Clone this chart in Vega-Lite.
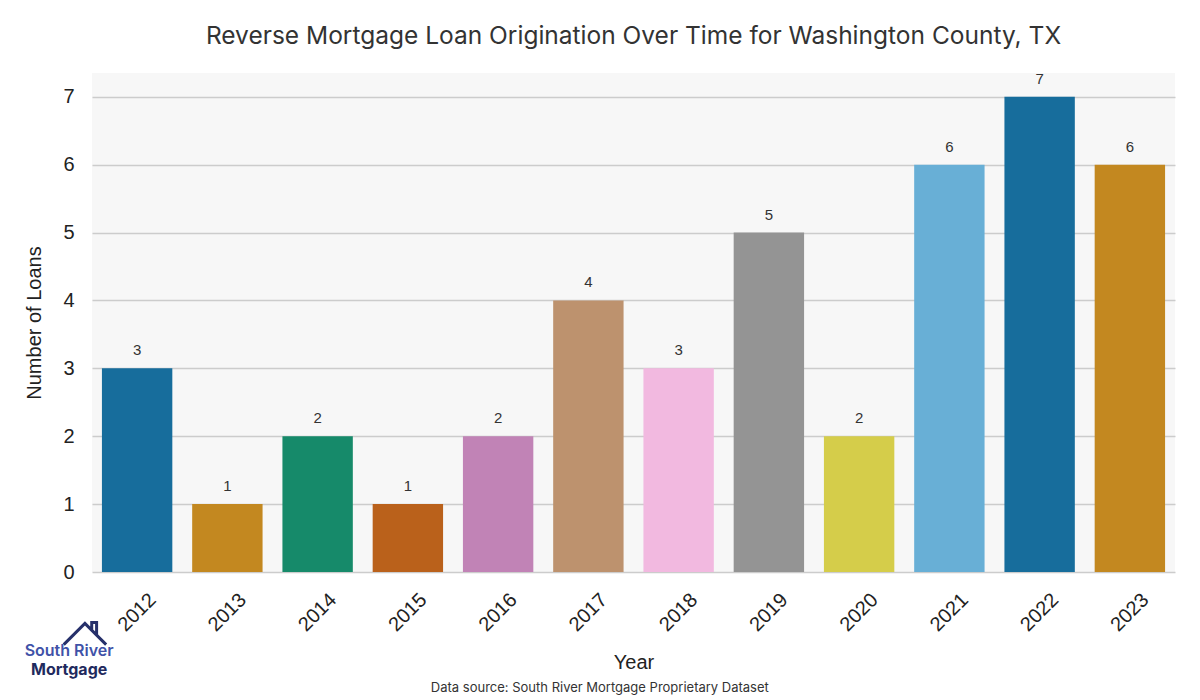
{
  "$schema": "https://vega.github.io/schema/vega-lite/v6.json",
  "padding": {"left": 24, "top": 24, "right": 5, "bottom": 5},
  "background": "#ffffff",
  "title": {
    "text": "Data source: South River Mortgage Proprietary Dataset",
    "orient": "bottom",
    "anchor": "middle",
    "frame": "bounds",
    "font": "Inter",
    "fontSize": 13,
    "fontWeight": "normal",
    "color": "#333333",
    "offset": 4
  },
  "vconcat": [
    {
      "width": 1083,
      "height": 499,
      "title": {
        "text": "Reverse Mortgage Loan Origination Over Time for Washington County, TX",
        "font": "Inter",
        "fontSize": 24.5,
        "fontWeight": "normal",
        "color": "#333333",
        "anchor": "middle",
        "frame": "group",
        "offset": 22
      },
      "data": {
        "values": [
          {"Year": "2012", "Loans": 3},
          {"Year": "2013", "Loans": 1},
          {"Year": "2014", "Loans": 2},
          {"Year": "2015", "Loans": 1},
          {"Year": "2016", "Loans": 2},
          {"Year": "2017", "Loans": 4},
          {"Year": "2018", "Loans": 3},
          {"Year": "2019", "Loans": 5},
          {"Year": "2020", "Loans": 2},
          {"Year": "2021", "Loans": 6},
          {"Year": "2022", "Loans": 7},
          {"Year": "2023", "Loans": 6}
        ]
      },
      "layer": [
        {
          "mark": {"type": "bar"},
          "encoding": {
            "x": {
              "field": "Year",
              "type": "nominal",
              "sort": null,
              "scale": {"paddingInner": 0.22, "paddingOuter": 0.11},
              "axis": {
                "title": "Year",
                "labelAngle": -45,
                "labelAlign": "center",
                "labelBaseline": "middle",
                "labelPadding": 40,
                "titlePadding": 18
              }
            },
            "y": {
              "field": "Loans",
              "type": "quantitative",
              "scale": {"domain": [0, 7.35], "nice": false},
              "axis": {
                "title": "Number of Loans",
                "format": "d",
                "values": [0, 1, 2, 3, 4, 5, 6, 7],
                "grid": true,
                "labelPadding": 18,
                "titlePadding": 18
              }
            },
            "color": {
              "field": "Year",
              "type": "nominal",
              "sort": null,
              "legend": null,
              "scale": {
                "domain": ["2012", "2013", "2014", "2015", "2016", "2017", "2018", "2019", "2020", "2021", "2022", "2023"],
                "range": ["#176d9c", "#c38820", "#168a6a", "#ba611b", "#c183b6", "#bd926e", "#f2b9e0", "#949494", "#d5cd4a", "#68afd6", "#176d9c", "#c38820"]
              }
            }
          }
        },
        {
          "mark": {"type": "text", "baseline": "alphabetic", "dy": -13, "font": "Liberation Sans", "fontSize": 15, "color": "#333333"},
          "encoding": {
            "x": {"field": "Year", "type": "nominal", "sort": null},
            "y": {"field": "Loans", "type": "quantitative"},
            "text": {"field": "Loans", "type": "quantitative"}
          }
        },
        {
          "data": {"values": [{"logo": "house", "pos": -0.914}]},
          "mark": {
            "type": "point",
            "shape": "M-1,0.5L0,-0.5L1,0.5M0.32,-0.18L0.32,-0.55L0.55,-0.55L0.55,0.05",
            "filled": false,
            "stroke": "#26306a",
            "strokeWidth": 3,
            "strokeJoin": "miter",
            "size": 1800,
            "opacity": 1
          },
          "encoding": {
            "x": {"datum": "2012"},
            "xOffset": {"value": -17},
            "y": {"field": "pos", "type": "quantitative"}
          }
        },
        {
          "data": {"values": [{"logo": "South River", "pos": -1.17}]},
          "mark": {"type": "text", "font": "Inter", "fontSize": 16, "fontWeight": 600, "color": "#3f52a8", "dx": -68, "baseline": "middle"},
          "encoding": {
            "x": {"datum": "2012"},
            "y": {"field": "pos", "type": "quantitative"},
            "text": {"field": "logo"}
          }
        },
        {
          "data": {"values": [{"logo": "Mortgage", "pos": -1.44}]},
          "mark": {"type": "text", "font": "Inter", "fontSize": 16, "fontWeight": 700, "color": "#1f2a5e", "dx": -68, "baseline": "middle"},
          "encoding": {
            "x": {"datum": "2012"},
            "y": {"field": "pos", "type": "quantitative"},
            "text": {"field": "logo"}
          }
        }
      ]
    }
  ],
  "config": {
    "view": {"fill": "#f7f7f7", "stroke": null},
    "axis": {
      "domain": false,
      "ticks": false,
      "labelFont": "Liberation Sans",
      "labelFontSize": 20,
      "labelColor": "#222222",
      "titleFont": "Liberation Sans",
      "titleFontSize": 20,
      "titleFontWeight": "normal",
      "titleColor": "#222222",
      "gridColor": "#cccccc",
      "gridWidth": 1.5
    },
    "axisX": {"grid": false}
  }
}
